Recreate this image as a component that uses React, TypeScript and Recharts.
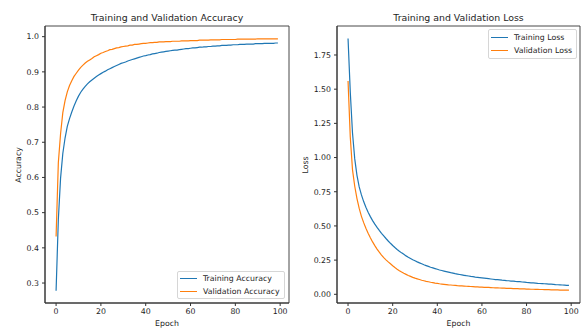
import React from 'react';
import { LineChart, Line, XAxis, YAxis, ReferenceArea } from 'recharts';

const trainAcc = [
  0.278, 0.480, 0.598, 0.668, 0.712, 0.745, 0.767, 0.786, 0.803, 0.818,
  0.831, 0.842, 0.851, 0.859, 0.866, 0.872, 0.877, 0.882, 0.887, 0.891,
  0.895, 0.899, 0.902, 0.906, 0.909, 0.912, 0.915, 0.918, 0.921, 0.924,
  0.926, 0.928, 0.931, 0.933, 0.935, 0.937, 0.939, 0.941, 0.943, 0.945,
  0.946, 0.948, 0.949, 0.951, 0.952, 0.953, 0.955, 0.956, 0.957, 0.958,
  0.959, 0.960, 0.961, 0.962, 0.962, 0.963, 0.964, 0.965, 0.966, 0.966,
  0.967, 0.968, 0.968, 0.969, 0.970, 0.970, 0.971, 0.971, 0.972, 0.972,
  0.973, 0.973, 0.974, 0.974, 0.975, 0.975, 0.975, 0.976, 0.976, 0.977,
  0.977, 0.977, 0.978, 0.978, 0.978, 0.979, 0.979, 0.979, 0.979, 0.980,
  0.980, 0.980, 0.980, 0.981, 0.981, 0.981, 0.981, 0.981, 0.982, 0.982,
];

const valAcc = [
  0.432, 0.642, 0.724, 0.784, 0.818, 0.843, 0.861, 0.875, 0.887, 0.896,
  0.905, 0.913, 0.919, 0.925, 0.930, 0.934, 0.938, 0.943, 0.946, 0.949,
  0.953, 0.955, 0.958, 0.960, 0.963, 0.964, 0.966, 0.968, 0.969, 0.971,
  0.972, 0.973, 0.974, 0.976, 0.976, 0.978, 0.978, 0.979, 0.980, 0.981,
  0.981, 0.982, 0.983, 0.983, 0.984, 0.984, 0.985, 0.985, 0.985, 0.986,
  0.986, 0.986, 0.987, 0.987, 0.987, 0.987, 0.988, 0.988, 0.988, 0.988,
  0.989, 0.989, 0.989, 0.989, 0.990, 0.990, 0.990, 0.990, 0.990, 0.991,
  0.991, 0.991, 0.991, 0.991, 0.992, 0.992, 0.992, 0.992, 0.992, 0.992,
  0.992, 0.993, 0.993, 0.993, 0.993, 0.993, 0.993, 0.993, 0.993, 0.993,
  0.994, 0.994, 0.994, 0.994, 0.994, 0.994, 0.994, 0.994, 0.994, 0.994,
];

const trainLoss = [
  1.870, 1.480, 1.180, 0.990, 0.870, 0.785, 0.727, 0.678, 0.636, 0.600,
  0.568, 0.539, 0.513, 0.489, 0.467, 0.446, 0.427, 0.408, 0.390, 0.373,
  0.357, 0.342, 0.328, 0.315, 0.303, 0.292, 0.281, 0.271, 0.262, 0.253,
  0.245, 0.237, 0.230, 0.223, 0.216, 0.210, 0.204, 0.198, 0.193, 0.188,
  0.183, 0.178, 0.174, 0.170, 0.166, 0.162, 0.158, 0.155, 0.151, 0.148,
  0.145, 0.142, 0.139, 0.136, 0.134, 0.131, 0.129, 0.126, 0.124, 0.122,
  0.120, 0.118, 0.116, 0.114, 0.112, 0.110, 0.108, 0.107, 0.105, 0.103,
  0.102, 0.100, 0.099, 0.097, 0.096, 0.094, 0.093, 0.092, 0.090, 0.089,
  0.087, 0.086, 0.084, 0.083, 0.082, 0.080, 0.079, 0.078, 0.077, 0.076,
  0.075, 0.074, 0.073, 0.071, 0.070, 0.069, 0.068, 0.067, 0.066, 0.065,
];

const valLoss = [
  1.560, 1.150, 0.910, 0.790, 0.700, 0.628, 0.570, 0.524, 0.483, 0.447,
  0.413, 0.383, 0.356, 0.331, 0.308, 0.287, 0.268, 0.252, 0.237, 0.223,
  0.209, 0.196, 0.184, 0.173, 0.163, 0.154, 0.146, 0.138, 0.131, 0.124,
  0.118, 0.113, 0.108, 0.103, 0.099, 0.095, 0.092, 0.088, 0.085, 0.082,
  0.080, 0.077, 0.075, 0.073, 0.071, 0.069, 0.068, 0.066, 0.065, 0.063,
  0.062, 0.061, 0.060, 0.059, 0.058, 0.057, 0.056, 0.055, 0.054, 0.053,
  0.052, 0.051, 0.051, 0.050, 0.049, 0.048, 0.047, 0.047, 0.046, 0.045,
  0.045, 0.044, 0.043, 0.043, 0.042, 0.041, 0.041, 0.040, 0.040, 0.039,
  0.038, 0.038, 0.037, 0.037, 0.036, 0.036, 0.035, 0.035, 0.034, 0.034,
  0.034, 0.033, 0.033, 0.032, 0.032, 0.031, 0.031, 0.031, 0.030, 0.030,
];

const xTicks = [0, 20, 40, 60, 80, 100];
const accTicks = [0.3, 0.4, 0.5, 0.6, 0.7, 0.8, 0.9, 1.0];
const lossTicks = [0, 0.25, 0.5, 0.75, 1.0, 1.25, 1.5, 1.75];

const accData = trainAcc.map((v, i) => ({ epoch: i, train: v, val: valAcc[i] }));
const lossData = trainLoss.map((v, i) => ({ epoch: i, train: v, val: valLoss[i] }));

const X_DOMAIN: [number, number] = [-4.95, 103.95];
const FONT = 'DejaVu Sans';
const TXT = '#1e1e1e';
const BLUE = '#1f77b4';
const ORANGE = '#ff7f0e';

function Panel(props: any) {
  const { left, data, yDomain, yTicks, fmt, yAxisWidth } = props;
  const tickStyle = { fill: TXT, fontSize: 7.8, fontFamily: FONT };
  return (
    <div style={{ position: 'absolute', left, top: 0 }}>
      <LineChart width={291} height={329} data={data} margin={{ top: 26, right: 2, bottom: 0, left: 0 }}>
        <XAxis
          dataKey="epoch"
          type="number"
          domain={X_DOMAIN}
          ticks={xTicks}
          allowDataOverflow
          interval={0}
          height={26}
          tickSize={3}
          tickMargin={2}
          stroke="#333"
          tick={tickStyle}
        />
        <YAxis
          type="number"
          domain={yDomain}
          ticks={yTicks}
          allowDataOverflow
          interval={0}
          width={yAxisWidth}
          tickSize={3}
          tickMargin={3}
          tickFormatter={fmt}
          stroke="#333"
          tick={tickStyle}
        />
        <ReferenceArea
          x1={X_DOMAIN[0]}
          x2={X_DOMAIN[1]}
          y1={yDomain[0]}
          y2={yDomain[1]}
          fill="none"
          fillOpacity={0}
          stroke="#333"
          strokeWidth={0.9}
          ifOverflow="visible"
        />
        <Line dataKey="train" stroke={BLUE} strokeWidth={1.2} dot={false} isAnimationActive={false} />
        <Line dataKey="val" stroke={ORANGE} strokeWidth={1.2} dot={false} isAnimationActive={false} />
      </LineChart>
    </div>
  );
}

function LegendBox(props: any) {
  const { left, top, width, height, rows, rowY, textX } = props;
  return (
    <div
      style={{
        position: 'absolute',
        left,
        top,
        width,
        height,
        boxSizing: 'border-box',
        border: '1px solid #d6d6d6',
        borderRadius: 2,
        background: 'rgba(255,255,255,0.8)',
      }}
    >
      {rows.map((r: any, i: number) => (
        <React.Fragment key={i}>
          <div
            style={{
              position: 'absolute',
              left: 2,
              top: Math.round(rowY[i]) - 1,
              width: 17,
              height: 1,
              background: r.color,
            }}
          />
          <div
            style={{
              position: 'absolute',
              left: textX,
              top: rowY[i] - 5,
              lineHeight: '10px',
              fontSize: 7.8,
              fontFamily: FONT,
              color: TXT,
              whiteSpace: 'nowrap',
            }}
          >
            {r.label}
          </div>
        </React.Fragment>
      ))}
    </div>
  );
}

const textBase: React.CSSProperties = {
  position: 'absolute',
  fontFamily: FONT,
  color: TXT,
  whiteSpace: 'nowrap',
  textAlign: 'center',
};

export default function App() {
  return (
    <div style={{ position: 'absolute', left: 0, top: 0, width: 582, height: 329, background: '#fff', overflow: 'hidden' }}>
      <Panel
        left={0}
        data={accData}
        yDomain={[0.2433, 1.0303]}
        yTicks={accTicks}
        fmt={(v: number) => v.toFixed(1)}
        yAxisWidth={45}
      />
      <Panel
        left={291}
        data={lossData}
        yDomain={[-0.0636, 1.962]}
        yTicks={lossTicks}
        fmt={(v: number) => v.toFixed(2)}
        yAxisWidth={46}
      />
      <div style={{ ...textBase, left: 45, width: 244, top: 11.5, fontSize: 9.4, lineHeight: '12px' }}>
        Training and Validation Accuracy
      </div>
      <div style={{ ...textBase, left: 337, width: 243, top: 11.5, fontSize: 9.4, lineHeight: '12px' }}>
        Training and Validation Loss
      </div>
      <div style={{ ...textBase, left: 45, width: 244, top: 319, fontSize: 7.8, lineHeight: '10px' }}>Epoch</div>
      <div style={{ ...textBase, left: 337, width: 243, top: 319, fontSize: 7.8, lineHeight: '10px' }}>Epoch</div>
      <div
        style={{
          ...textBase,
          left: 19 - 50,
          width: 100,
          top: 164.5 - 5,
          fontSize: 7.8,
          lineHeight: '10px',
          transform: 'rotate(-90deg)',
        }}
      >
        Accuracy
      </div>
      <div
        style={{
          ...textBase,
          left: 306 - 50,
          width: 100,
          top: 164.5 - 5,
          fontSize: 7.8,
          lineHeight: '10px',
          transform: 'rotate(-90deg)',
        }}
      >
        Loss
      </div>
      <LegendBox
        left={177}
        top={271}
        width={108}
        height={28}
        rowY={[7.3, 20]}
        textX={25}
        rows={[
          { label: 'Training Accuracy', color: BLUE },
          { label: 'Validation Accuracy', color: ORANGE },
        ]}
      />
      <LegendBox
        left={488}
        top={29}
        width={89}
        height={30}
        rowY={[8.3, 21]}
        textX={25}
        rows={[
          { label: 'Training Loss', color: BLUE },
          { label: 'Validation Loss', color: ORANGE },
        ]}
      />
    </div>
  );
}
